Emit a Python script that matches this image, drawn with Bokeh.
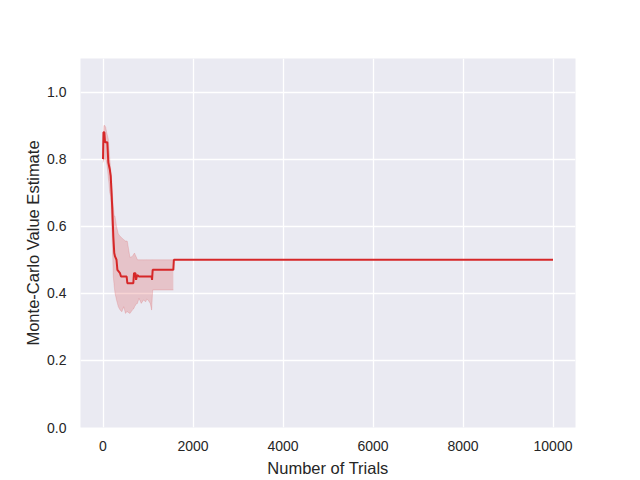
from bokeh.plotting import figure
from bokeh.models import Range1d, FixedTicker, NumeralTickFormatter
from bokeh.embed import file_html
from bokeh.resources import INLINE

# Mean Monte-Carlo estimate vs number of trials
trials = [0, 10, 30, 45, 96, 118, 150, 171, 190, 207, 229, 250, 267, 300, 320, 378, 400,
          526, 541, 674, 689, 720, 735, 760, 800, 1081, 1090, 1104, 1563, 1575, 10000]
estimate = [0.80, 0.88, 0.88, 0.85, 0.85, 0.79, 0.77, 0.75, 0.70, 0.65, 0.57, 0.52, 0.51,
            0.50, 0.47, 0.46, 0.45, 0.45, 0.43, 0.43, 0.46, 0.46, 0.44, 0.455, 0.45, 0.45,
            0.44, 0.47, 0.47, 0.50, 0.50]

# Confidence band
band_trials = [0, 20, 40, 60, 80, 100, 118, 130, 150, 171, 190, 207, 229, 250, 267, 300,
               340, 380, 420, 460, 500, 526, 540, 600, 650, 689, 700, 750, 765, 800, 850,
               900, 950, 975, 1000, 1050, 1081, 1104, 1563]
band_low = [0.79, 0.80, 0.80, 0.80, 0.79, 0.77, 0.745, 0.73, 0.70, 0.69, 0.62, 0.55, 0.45,
            0.42, 0.40, 0.38, 0.36, 0.35, 0.345, 0.36, 0.34, 0.345, 0.345, 0.34, 0.35,
            0.355, 0.36, 0.37, 0.37, 0.385, 0.37, 0.38, 0.375, 0.383, 0.38, 0.37, 0.35,
            0.41, 0.41]
band_high = [0.84, 0.90, 0.90, 0.895, 0.88, 0.87, 0.86, 0.84, 0.80, 0.77, 0.74, 0.70, 0.66,
             0.63, 0.63, 0.60, 0.577, 0.57, 0.565, 0.56, 0.556, 0.556, 0.555, 0.507, 0.51,
             0.518, 0.52, 0.505, 0.50, 0.50, 0.50, 0.50, 0.50, 0.50, 0.50, 0.50, 0.50,
             0.50, 0.50]

x_ticks = [0, 2000, 4000, 6000, 8000, 10000]
y_ticks = [0.0, 0.2, 0.4, 0.6, 0.8, 1.0]

RED = "#d62728"
FONT = "Liberation Sans"

p = figure(width=640, height=480, output_backend="svg", toolbar_location=None,
           x_range=Range1d(-500, 10500), y_range=Range1d(0, 1.1),
           min_border_left=80, min_border_right=65, min_border_top=58,
           min_border_bottom=53)

p.background_fill_color = "#EAEAF2"
p.border_fill_color = "white"
p.outline_line_color = None

p.varea(x=band_trials, y1=band_low, y2=band_high, fill_color=RED, fill_alpha=0.2)
p.line(band_trials, band_low, line_color=RED, line_alpha=0.15, line_width=1)
p.line(band_trials, band_high, line_color=RED, line_alpha=0.15, line_width=1)
p.line(trials, estimate, line_color=RED, line_width=2)

for ax in (p.xaxis[0], p.yaxis[0]):
    ax.axis_line_color = None
    ax.major_tick_line_color = None
    ax.minor_tick_line_color = None
    ax.major_tick_out = 0
    ax.major_tick_in = 0
    ax.major_label_text_font = FONT
    ax.major_label_text_font_size = "14px"
    ax.major_label_text_color = "#262626"
    ax.axis_label_text_font = FONT
    ax.axis_label_text_font_size = "16.5px"
    ax.axis_label_text_font_style = "normal"
    ax.axis_label_text_color = "#262626"

p.xaxis[0].ticker = FixedTicker(ticks=x_ticks)
p.xaxis[0].formatter = NumeralTickFormatter(format="0")
p.xaxis[0].axis_label = "Number of Trials"
p.xaxis[0].major_label_standoff = 13
p.xaxis[0].axis_label_standoff = 5

p.yaxis[0].ticker = FixedTicker(ticks=y_ticks)
p.yaxis[0].formatter = NumeralTickFormatter(format="0.0")
p.yaxis[0].axis_label = "Monte-Carlo Value Estimate"
p.yaxis[0].major_label_standoff = 14
p.yaxis[0].axis_label_standoff = 2

p.xgrid.grid_line_color = "white"
p.ygrid.grid_line_color = "white"
p.xgrid.grid_line_width = 1.3
p.ygrid.grid_line_width = 1.3

open("out.html", "w").write(file_html(p, INLINE))
